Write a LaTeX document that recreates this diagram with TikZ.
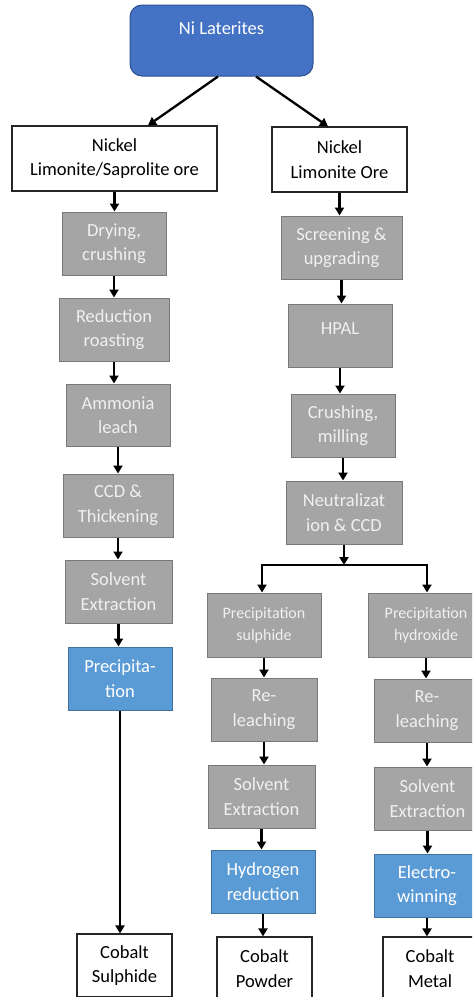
\documentclass[tikz,border=0pt]{standalone}
\usepackage{fontspec}
\setmainfont{Carlito}
\usetikzlibrary{arrows.meta}
\definecolor{latblue}{HTML}{4472C4}
\definecolor{latedge}{HTML}{2F528F}
\definecolor{stepgray}{HTML}{A5A5A5}
\definecolor{stepedge}{HTML}{787878}
\definecolor{endblue}{HTML}{5B9BD5}
\definecolor{endedge}{HTML}{41719C}
\tikzset{
    boxsize/.style 2 args = {
        minimum width=#1pt,
        minimum height=#2pt,
    },
    topbox/.style = {
        draw=latedge,
        fill=latblue,
        line width=1pt,
        rounded corners=12pt,
        text=white,
        text height=12pt,
        text depth=25pt,
        font=\fontsize{18.5}{24.5}\selectfont,
    },
    orebox/.style = {
        draw=black!85,
        fill=white,
        line width=1.2pt,
        align=center,
        inner sep=2pt,
        font=\fontsize{18.5}{24.5}\selectfont,
    },
    procbox/.style = {
        draw=stepedge,
        fill=stepgray,
        line width=1pt,
        text=white!94!black,
        align=center,
        inner sep=2pt,
        font=\fontsize{18.5}{24.5}\selectfont,
    },
    smallbox/.style = {
        procbox,
        font=\fontsize{16}{21.5}\selectfont,
    },
    finbox/.style = {
        procbox,
        draw=endedge,
        fill=endblue,
        text=white,
    },
    flow/.style = {
        line width=2.3pt,
        -{Triangle[width=9pt,length=8pt]},
    }
}

\begin{document}
\begin{tikzpicture}[x=1pt, y=-1pt]
  \useasboundingbox (0,0) rectangle (472,997);
  \clip (0,0) rectangle (472,997);

  % Source and ore types
  \node[topbox, boxsize={183}{71}] (lat) at (221.5,40.5) {Ni Laterites};
  \node[orebox, boxsize={205}{65}] (oreL) at (114.5,158.5) {Nickel\\Limonite/Saprolite ore};
  \node[orebox, boxsize={135}{65}] (oreR) at (339.5,159.5) {Nickel\\Limonite Ore};

  % Left route
  \node[procbox, boxsize={104}{63}] (dry) at (114,243.5) {Drying,\\crushing};
  \node[procbox, boxsize={110}{63}] (roast) at (114,329.5) {Reduction\\roasting};
  \node[procbox, boxsize={104}{62}] (leach) at (118,415) {Ammonia\\leach};
  \node[procbox, boxsize={110}{63}] (ccdL) at (118,505.5) {CCD \&\\Thickening};
  \node[procbox, boxsize={107}{63}] (sxL) at (118.5,591.5) {Solvent\\Extraction};
  \node[finbox, boxsize={104}{63}] (prec) at (120,678.5) {Precipita-\\tion};
  \node[orebox, boxsize={95}{63}] (cos) at (124.5,965.5) {Cobalt\\Sulphide};

  % Right route
  \node[procbox, boxsize={121}{63}] (screen) at (341.5,247.5) {Screening \&\\upgrading};
  \node[procbox, boxsize={104}{63}, text height=12pt, text depth=14.5pt] (hpal) at (340,335.5) {HPAL};
  \node[procbox, boxsize={104}{63}] (mill) at (343,425.5) {Crushing,\\milling};
  \node[procbox, boxsize={116}{63}] (neut) at (344,512.5) {Neutralizat\\ion \& CCD};
  \coordinate (split) at (344,565);

  \node[smallbox, boxsize={114}{64}] (psul) at (264,625) {Precipitation\\sulphide};
  \node[procbox, boxsize={106}{63}] (relL) at (264,709.5) {Re-\\leaching};
  \node[procbox, boxsize={107}{63}] (sxM) at (261.5,796.5) {Solvent\\Extraction};
  \node[finbox, boxsize={104}{63}] (hyd) at (263,881.5) {Hydrogen\\reduction};
  \node[orebox, boxsize={95}{63}] (cop) at (264.5,968.5) {Cobalt\\Powder};

  \node[smallbox, boxsize={116}{64}] (phyd) at (426,625) {Precipitation\\hydroxide};
  \node[procbox, boxsize={106}{63}] (relR) at (427,710.5) {Re-\\leaching};
  \node[procbox, boxsize={107}{63}] (sxR) at (427.5,798.5) {Solvent\\Extraction};
  \node[finbox, boxsize={106}{63}] (elw) at (427,885.5) {Electro-\\winning};
  \node[orebox, boxsize={94}{63}] (com) at (430,968.5) {Cobalt\\Metal};

  % Connectors
  \draw[flow] ([xshift=-3.5pt]lat.south) -- ([xshift=33.5pt]oreL.north);
  \draw[flow] ([xshift=34.5pt]lat.south) -- ([xshift=-11.5pt]oreR.north);

  \foreach \a/\b in {oreL/dry, dry/roast, roast/leach, leach/ccdL, ccdL/sxL, sxL/prec, prec/cos,
                     oreR/screen, screen/hpal, hpal/mill, mill/neut,
                     psul/relL, relL/sxM, sxM/hyd, hyd/cop,
                     phyd/relR, relR/sxR, sxR/elw, elw/com}
    \draw[flow] (\a.south) -- (\a.south |- \b.north);

  \draw[flow] (neut.south) -- (split);
  \draw[flow, {Triangle[width=9pt,length=8pt]}-{Triangle[width=9pt,length=8pt]}]
    ([xshift=-2pt]psul.north) |- (split) -| ([xshift=1pt]phyd.north);

\end{tikzpicture}
\end{document}
